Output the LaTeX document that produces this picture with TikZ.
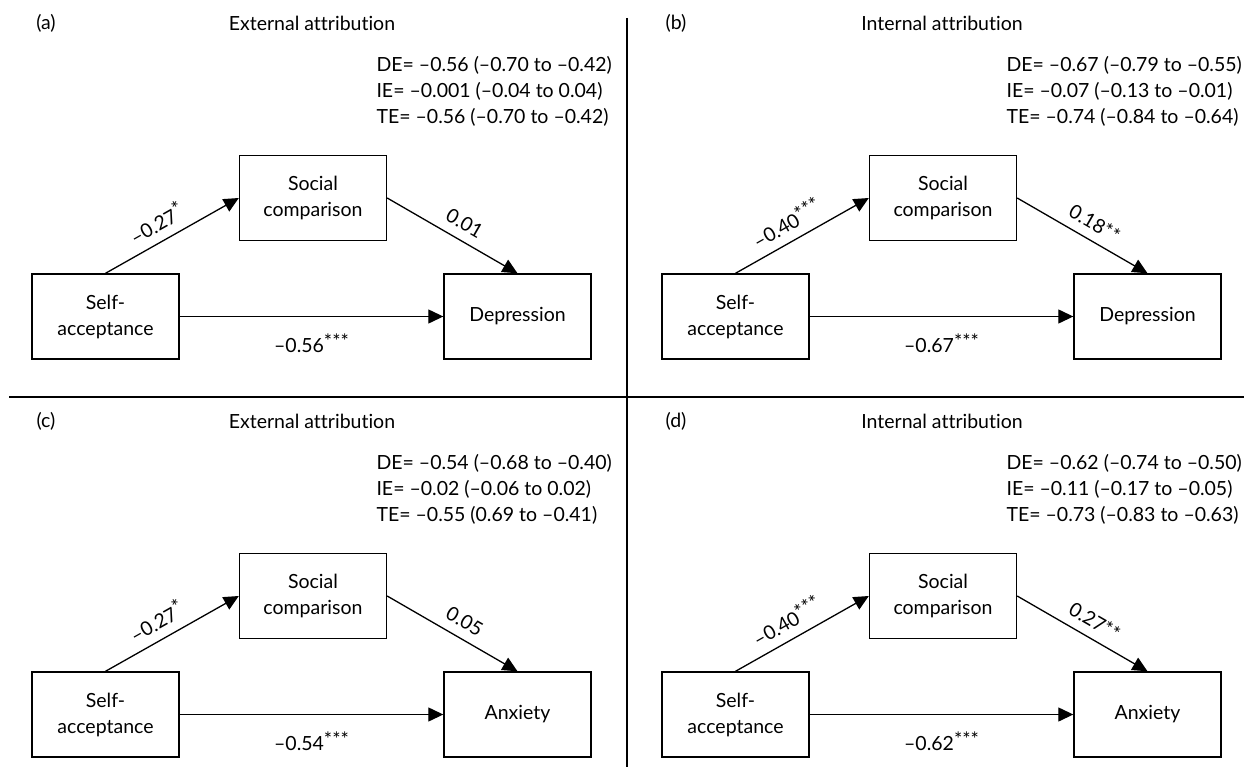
\documentclass[tikz,border=0pt]{standalone}
\usepackage{fontspec}
\setmainfont{Lato}[Ligatures={TeX,NoCommon}]
\usetikzlibrary{arrows.meta,positioning}
\newcommand\sig[1]{\raisebox{0.22em}{#1}}

\begin{document}
\begin{tikzpicture}[
x=1pt, y=-1pt,
every node/.style={font=\fontsize{19.5}{26}\selectfont},
box/.style={draw, line width=1.4pt, minimum width=147pt, minimum height=85pt, align=center, inner sep=2pt},
arrow/.style={-{Triangle[length=15pt,width=14pt]}, line width=1.3pt},
coef/.style={sloped, inner sep=2pt},
divider/.style={line width=1.2pt}
]
\useasboundingbox (0,0) rectangle (1244,767);

% Panel dividers
\draw[divider] (627,18) -- (627,767);
\draw[divider] (9,397) -- (1244,397);

% Four mediation panels
\foreach \tag/\dx/\dy/\ttl/\outc/\pa/\pb/\pc/\de/\ie/\te in {
  a/0/0/External/Depression/{--0.27\sig{*}}/{0.01}/{--0.56\sig{***}}/{--0.56 (--0.70 to --0.42)}/{--0.001 (--0.04 to 0.04)}/{--0.56 (--0.70 to --0.42)},
  b/630/0/Internal/Depression/{--0.40\sig{***}}/{0.18**}/{--0.67\sig{***}}/{--0.67 (--0.79 to --0.55)}/{--0.07 (--0.13 to --0.01)}/{--0.74 (--0.84 to --0.64)},
  c/0/398/External/Anxiety/{--0.27\sig{*}}/{0.05}/{--0.54\sig{***}}/{--0.54 (--0.68 to --0.40)}/{--0.02 (--0.06 to 0.02)}/{--0.55 (0.69 to --0.41)},
  d/630/398/Internal/Anxiety/{--0.40\sig{***}}/{0.27**}/{--0.62\sig{***}}/{--0.62 (--0.74 to --0.50)}/{--0.11 (--0.17 to --0.05)}/{--0.73 (--0.83 to --0.63)}%
}{
\begin{scope}[shift={(\dx,\dy)}]
  % Panel tag, title and effect estimates
  \node (tag\tag) at (46,23) {(\tag)};
  \node (title\tag) at (312,23) {\ttl\ attribution};
  \node[anchor=west, align=left] (stats\tag) at (373,91) {DE= \de\\IE= \ie\\TE= \te};

  % Variables
  \node[box] (social\tag) at (313,198) {Social\\comparison};
  \node[box] (self\tag) at (105.5,316.5) {Self-\\acceptance};
  \node[box] (outcome\tag) at (517.5,316.5) {\outc};

  % Paths
  \draw[arrow] (self\tag.north) -- node[coef, above=7pt, pos=0.45] {\pa} (social\tag.west);
  \draw[arrow] (social\tag.east) -- node[coef, above=7pt, pos=0.53] {\pb} (outcome\tag.north);
  \draw[arrow] (self\tag.east) -- node[below=13pt] {\pc} (outcome\tag.west);
\end{scope}
}

\end{tikzpicture}
\end{document}
